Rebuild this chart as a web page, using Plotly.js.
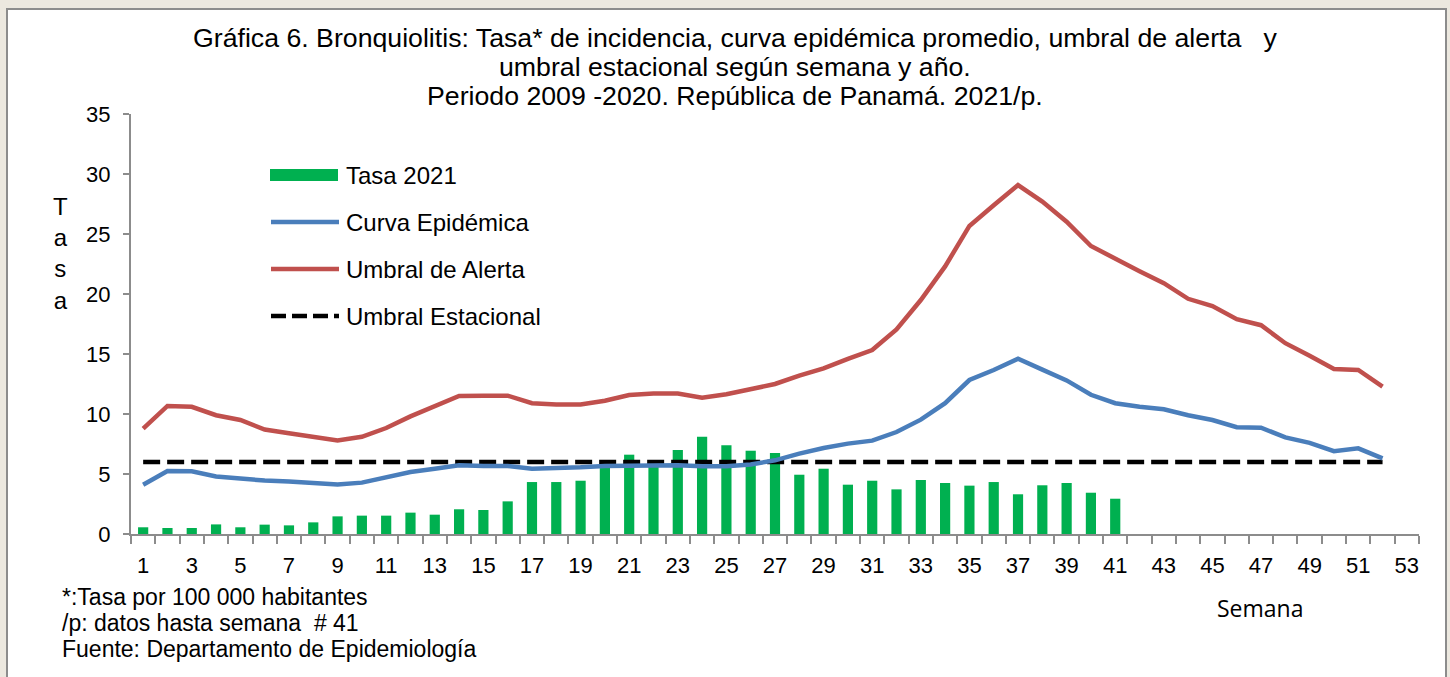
<!DOCTYPE html>
<html>
<head>
<meta charset="utf-8">
<script src="https://cdn.plot.ly/plotly-3.0.1.min.js"></script>
<style>
  body { margin: 0; background: #ece8df; }
  #chart { width: 1450px; height: 677px; }
</style>
</head>
<body>
<div id="chart"></div>
<script>
// semanas epidemiologicas
var semanas = [1,2,3,4,5,6,7,8,9,10,11,12,13,14,15,16,17,18,19,20,21,22,23,24,25,26,
  27,28,29,30,31,32,33,34,35,36,37,38,39,40,41,42,43,44,45,46,47,48,49,50,51,52];
var semanas2021 = [1,2,3,4,5,6,7,8,9,10,11,12,13,14,15,16,17,18,19,20,21,22,23,24,25,26,
  27,28,29,30,31,32,33,34,35,36,37,38,39,40,41];
var etiquetasSemana = [1,3,5,7,9,11,13,15,17,19,21,23,25,27,29,31,33,35,37,39,41,43,45,47,49,51,53];

// tasa 2021 (hasta semana 41)
var tasa2021 = [0.56,0.5,0.5,0.8,0.56,0.78,0.72,0.97,1.47,1.53,1.53,1.78,1.61,2.06,2.0,2.72,
  4.33,4.33,4.44,5.8,6.61,5.9,7.0,8.1,7.39,6.94,6.75,4.94,5.44,4.11,4.44,3.72,4.5,4.25,
  4.03,4.33,3.31,4.06,4.25,3.44,2.94];

// curva epidemica promedio 2009-2020
var curvaEpidemica = [4.11,5.25,5.22,4.8,4.63,4.45,4.38,4.27,4.12,4.28,4.7,5.17,5.44,5.72,
  5.67,5.67,5.44,5.47,5.56,5.67,5.7,5.75,5.72,5.64,5.64,5.8,6.14,6.7,7.17,7.53,7.78,8.5,
  9.53,10.9,12.83,13.67,14.6,13.7,12.8,11.6,10.9,10.6,10.4,9.9,9.5,8.9,8.86,8.05,7.6,6.9,
  7.14,6.3];

// umbral de alerta
var umbralAlerta = [8.78,10.67,10.6,9.9,9.5,8.7,8.4,8.1,7.8,8.1,8.83,9.8,10.67,11.5,11.53,
  11.53,10.9,10.8,10.8,11.1,11.58,11.7,11.7,11.36,11.64,12.1,12.5,13.2,13.8,14.6,15.33,
  17.05,19.5,22.3,25.67,27.4,29.08,27.7,26.03,24.0,22.9,21.9,20.9,19.6,19.0,17.9,17.4,
  15.9,14.86,13.75,13.67,12.28];

// umbral estacional
var umbralEstacional = [6,6,6,6,6,6,6,6,6,6,6,6,6,6,6,6,6,6,6,6,6,6,6,6,6,6,
  6,6,6,6,6,6,6,6,6,6,6,6,6,6,6,6,6,6,6,6,6,6,6,6,6,6];

var nombres = ["Tasa 2021", "Curva Epidémica", "Umbral de Alerta", "Umbral Estacional"];
var colores = ["#00b050", "#4a7ebb", "#c0504d", "#000000"];

var titulo = [
  "Gráfica 6. Bronquiolitis: Tasa* de incidencia, curva epidémica promedio, umbral de alerta \u00a0\u00a0y",
  "umbral estacional según semana y año.",
  "Periodo 2009 -2020. República de Panamá. 2021/p."
];
var notas = [
  "*:Tasa por 100 000 habitantes",
  "/p: datos hasta semana \u00a0# 41",
  "Fuente: Departamento de Epidemiología"
];

var font = "Liberation Sans, Arial, sans-serif";

var data = [
  { x: semanas2021, y: tasa2021, type: "bar", name: nombres[0],
    marker: { color: colores[0], line: { width: 0 } } },
  { x: semanas, y: umbralEstacional, type: "scatter", mode: "lines", name: nombres[3],
    line: { color: colores[3], width: 4.5, dash: "17px,7px" } },
  { x: semanas, y: curvaEpidemica, type: "scatter", mode: "lines", name: nombres[1],
    line: { color: colores[1], width: 4.5 } },
  { x: semanas, y: umbralAlerta, type: "scatter", mode: "lines", name: nombres[2],
    line: { color: colores[2], width: 4.5 } }
];

// leyenda y textos colocados en pixeles de la pagina
var L = 131, W = 1288, B = 534, H = 420;
function px(v) { return (v - L) / W; }
function py(v) { return (B - v) / H; }

var legendY = [175, 222, 269, 316];
var shapes = [
  // fondo blanco con borde
  { type: "rect", xref: "paper", yref: "paper", layer: "below",
    x0: px(7), x1: px(1446), y0: py(720), y1: py(9),
    fillcolor: "#ffffff", line: { color: "#8c8c8c", width: 2 } },
  { type: "rect", xref: "paper", yref: "paper",
    x0: px(270), x1: px(338), y0: py(legendY[0] + 6), y1: py(legendY[0] - 6),
    fillcolor: colores[0], line: { width: 0 } }
];
for (var i = 1; i < 4; i++) {
  shapes.push({ type: "line", xref: "paper", yref: "paper",
    x0: px(271), x1: px(339), y0: py(legendY[i]), y1: py(legendY[i]),
    line: { color: colores[i], width: 4.5, dash: i == 3 ? "15px,6px" : "solid" } });
}

var annotations = [];
for (var i = 0; i < 4; i++) {
  annotations.push({ xref: "paper", yref: "paper", x: px(344), y: py(legendY[i]),
    xanchor: "left", yanchor: "middle", showarrow: false, text: nombres[i],
    font: { family: font, size: 24, color: "#000" } });
}
var tituloY = [38, 67, 96];
for (var i = 0; i < 3; i++) {
  annotations.push({ xref: "paper", yref: "paper", x: px(735), y: py(tituloY[i]),
    xanchor: "center", yanchor: "middle", showarrow: false, text: titulo[i],
    font: { family: font, size: 26.7, color: "#000" } });
}
var notasY = [597, 623, 649];
for (var i = 0; i < 3; i++) {
  annotations.push({ xref: "paper", yref: "paper", x: px(60), y: py(notasY[i]),
    xanchor: "left", yanchor: "middle", showarrow: false, text: notas[i],
    font: { family: font, size: 23, color: "#000" } });
}
annotations.push(
  { xref: "paper", yref: "paper", x: px(60), y: py(253), xanchor: "center", yanchor: "middle",
    showarrow: false, text: "T<br>a<br>s<br>a", font: { family: font, size: 24, color: "#000" } },
  { xref: "paper", yref: "paper", x: px(1260), y: py(608), xanchor: "center", yanchor: "middle",
    showarrow: false, text: "Semana", font: { family: "Open Sans, sans-serif", size: 23, color: "#000" } }
);

var layout = {
  width: 1450, height: 677,
  margin: { l: 131, r: 31, t: 114, b: 143 },
  paper_bgcolor: "#ece8df",
  plot_bgcolor: "rgba(0,0,0,0)",
  showlegend: false,
  bargap: 0.58,
  xaxis: {
    range: [0.5, 53.5],
    tickmode: "array", tickvals: etiquetasSemana,
    ticks: "", showgrid: false, zeroline: false,
    showline: true, linecolor: "#8c8c8c", linewidth: 2,
    ticklabelstandoff: 11,
    tickfont: { family: font, size: 22, color: "#000" },
    minor: { tickmode: "linear", tick0: 0.5, dtick: 1, ticks: "outside", ticklen: 8,
      tickcolor: "#8c8c8c", tickwidth: 2, showgrid: false }
  },
  yaxis: {
    range: [0, 35], dtick: 5,
    ticks: "outside", ticklen: 6, tickcolor: "#8c8c8c", tickwidth: 2,
    showgrid: false, zeroline: false,
    showline: true, linecolor: "#8c8c8c", linewidth: 2,
    ticklabelstandoff: 8,
    tickfont: { family: font, size: 22, color: "#000" }
  },
  shapes: shapes,
  annotations: annotations
};

Plotly.newPlot("chart", data, layout, { staticPlot: true });
</script>
</body>
</html>
